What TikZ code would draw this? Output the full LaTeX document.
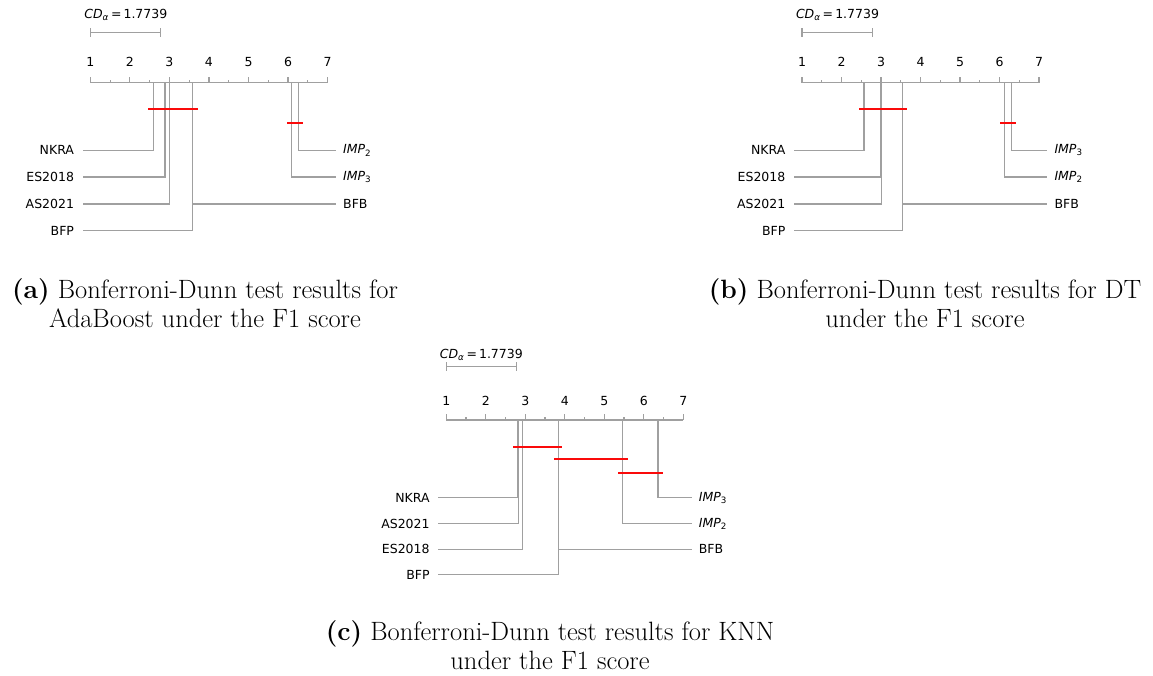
\documentclass[tikz,border=0pt]{standalone}
\usepackage{fontspec}
\newfontfamily\dv{DejaVu Sans}
\definecolor{grpred}{RGB}{250,10,10}
\definecolor{lngray}{RGB}{160,160,160}
\begin{document}
\begin{tikzpicture}[x=1pt,y=-1pt,
  rk/.style={draw=lngray,line width=1.15pt},
  axisln/.style={draw=lngray,line width=1.15pt},
  grp/.style={fill=grpred,draw=none},
  lbl/.style={font=\dv\fontsize{12.5}{14}\selectfont,inner xsep=8.5pt,inner ysep=0pt,anchor=east},
  rlbl/.style={font=\dv\fontsize{12.5}{14}\selectfont,inner xsep=7pt,inner ysep=0pt,anchor=west},
  ticklbl/.style={font=\dv\fontsize{12.5}{14}\selectfont,inner sep=0pt},
  captxt/.style={font=\fontsize{26.5}{29.5}\selectfont,align=center,inner sep=0pt}]
\useasboundingbox (0,0) rectangle (1153,676);
% ---------------- panel (a)
\begin{scope}[shift={(90.3,82.7)}]
  \def\u{39.55}
  \draw[axisln] (0,0) -- (6*\u,0);
  \foreach \i in {1,...,7} {\draw[axisln] ({(\i-1)*\u},0) -- ({(\i-1)*\u},-6);
    \node[ticklbl] (at\i) at ({(\i-1)*\u},-20.4) {\i};}
  \foreach \i in {1,...,6} {\draw[axisln] ({(\i-0.5)*\u},0) -- ({(\i-0.5)*\u},-3);}
  \coordinate (acdl) at (0,-50.4); \coordinate (acdr) at (1.7739*\u,-50.4);
  \draw[axisln] (acdl) -- (acdr);
  \draw[axisln] ([yshift=-4.5pt]acdl) -- ([yshift=4.5pt]acdl);
  \draw[axisln] ([yshift=-4.5pt]acdr) -- ([yshift=4.5pt]acdr);
  \node[ticklbl] (acd) at (35.5,-67.7) {\textit{CD}\textsubscript{\textit{α}}\,=\,1.7739};
  \node[lbl] (aNKRA) at (-7.6,67.6) {NKRA};
  \node[lbl] (aES) at (-7.6,94.3) {ES2018};
  \node[lbl] (aAS) at (-7.6,121.3) {AS2021};
  \node[lbl] (aBFP) at (-7.6,148) {BFP};
  \node[rlbl] (aIMPb) at (245.7,67.6) {\textit{IMP}\textsubscript{2}};
  \node[rlbl] (aIMPc) at (245.7,94.3) {\textit{IMP}\textsubscript{3}};
  \node[rlbl] (aBFB) at (245.7,121.3) {BFB};
  \coordinate (arNKRA) at ({1.60*\u},0);
  \coordinate (arES) at ({1.89*\u},0);
  \coordinate (arAS) at ({2.00*\u},0);
  \coordinate (arBFP) at ({2.59*\u},0);
  \coordinate (arIMPc) at ({5.09*\u},0);
  \coordinate (arIMPb) at ({5.26*\u},0);
  \draw[rk] (arNKRA) |- (aNKRA.east);
  \draw[rk] (arES) |- (aES.east);
  \draw[rk] (arAS) |- (aAS.east);
  \draw[rk] (arBFP) |- (aBFP.east);
  \draw[rk] (arIMPb) |- (aIMPb.west);
  \draw[rk] (arIMPc) |- (aIMPc.west);
  \draw[rk] (arBFP) |- (aBFB.west);
  \fill[grp] (58,25.3) rectangle (108,27.3);
  \fill[grp] (196.7,39.3) rectangle (213,41.3);
\end{scope}
% ---------------- panel (b)
\begin{scope}[shift={(802,82.7)}]
  \def\u{39.5}
  \draw[axisln] (0,0) -- (6*\u,0);
  \foreach \i in {1,...,7} {\draw[axisln] ({(\i-1)*\u},0) -- ({(\i-1)*\u},-6);
    \node[ticklbl] (bt\i) at ({(\i-1)*\u},-20.4) {\i};}
  \foreach \i in {1,...,6} {\draw[axisln] ({(\i-0.5)*\u},0) -- ({(\i-0.5)*\u},-3);}
  \coordinate (bcdl) at (0,-50.4); \coordinate (bcdr) at (1.7739*\u,-50.4);
  \draw[axisln] (bcdl) -- (bcdr);
  \draw[axisln] ([yshift=-4.5pt]bcdl) -- ([yshift=4.5pt]bcdl);
  \draw[axisln] ([yshift=-4.5pt]bcdr) -- ([yshift=4.5pt]bcdr);
  \node[ticklbl] (bcd) at (35.5,-67.7) {\textit{CD}\textsubscript{\textit{α}}\,=\,1.7739};
  \node[lbl] (bNKRA) at (-8,67.6) {NKRA};
  \node[lbl] (bES) at (-8,94.3) {ES2018};
  \node[lbl] (bAS) at (-8,121.3) {AS2021};
  \node[lbl] (bBFP) at (-8,148) {BFP};
  \node[rlbl] (bIMPc) at (245.3,67.6) {\textit{IMP}\textsubscript{3}};
  \node[rlbl] (bIMPb) at (245.3,94.3) {\textit{IMP}\textsubscript{2}};
  \node[rlbl] (bBFB) at (245.3,121.3) {BFB};
  \coordinate (brNKRA) at ({1.57*\u},0);
  \coordinate (brES) at ({1.98*\u},0);
  \coordinate (brAS) at ({2.01*\u},0);
  \coordinate (brBFP) at ({2.54*\u},0);
  \coordinate (brIMPb) at ({5.12*\u},0);
  \coordinate (brIMPc) at ({5.30*\u},0);
  \draw[rk] (brNKRA) |- (bNKRA.east);
  \draw[rk] (brES) |- (bES.east);
  \draw[rk] (brAS) |- (bAS.east);
  \draw[rk] (brBFP) |- (bBFP.east);
  \draw[rk] (brIMPc) |- (bIMPc.west);
  \draw[rk] (brIMPb) |- (bIMPb.west);
  \draw[rk] (brBFP) |- (bBFB.west);
  \fill[grp] (57.3,25.3) rectangle (104.7,27.3);
  \fill[grp] (198,39.3) rectangle (213.7,41.3);
\end{scope}
% ---------------- panel (c)
\begin{scope}[shift={(446.3,420)}]
  \def\u{39.5}
  \draw[axisln] (0,0) -- (6*\u,0);
  \foreach \i in {1,...,7} {\draw[axisln] ({(\i-1)*\u},0) -- ({(\i-1)*\u},-6);
    \node[ticklbl] (ct\i) at ({(\i-1)*\u},-19.3) {\i};}
  \foreach \i in {1,...,6} {\draw[axisln] ({(\i-0.5)*\u},0) -- ({(\i-0.5)*\u},-3);}
  \coordinate (ccdl) at (0,-53.7); \coordinate (ccdr) at (1.7739*\u,-53.7);
  \draw[axisln] (ccdl) -- (ccdr);
  \draw[axisln] ([yshift=-4.5pt]ccdl) -- ([yshift=4.5pt]ccdl);
  \draw[axisln] ([yshift=-4.5pt]ccdr) -- ([yshift=4.5pt]ccdr);
  \node[ticklbl] (ccd) at (35,-65) {\textit{CD}\textsubscript{\textit{α}}\,=\,1.7739};
  \node[lbl] (cNKRA) at (-8,77.7) {NKRA};
  \node[lbl] (cAS) at (-8,103.7) {AS2021};
  \node[lbl] (cES) at (-8,129.3) {ES2018};
  \node[lbl] (cBFP) at (-8,154.7) {BFP};
  \node[rlbl] (cIMPc) at (245.4,77.7) {\textit{IMP}\textsubscript{3}};
  \node[rlbl] (cIMPb) at (245.4,103.7) {\textit{IMP}\textsubscript{2}};
  \node[rlbl] (cBFB) at (245.4,129.3) {BFB};
  \coordinate (crNKRA) at ({1.81*\u},0);
  \coordinate (crAS) at ({1.83*\u},0);
  \coordinate (crES) at ({1.93*\u},0);
  \coordinate (crBFP) at ({2.83*\u},0);
  \coordinate (crIMPb) at ({4.47*\u},0);
  \coordinate (crIMPc) at ({5.36*\u},0);
  \draw[rk] (crNKRA) |- (cNKRA.east);
  \draw[rk] (crAS) |- (cAS.east);
  \draw[rk] (crES) |- (cES.east);
  \draw[rk] (crBFP) |- (cBFP.east);
  \draw[rk] (crIMPc) |- (cIMPc.west);
  \draw[rk] (crIMPb) |- (cIMPb.west);
  \draw[rk] (crBFP) |- (cBFB.west);
  \fill[grp] (67,26) rectangle (116,28);
  \fill[grp] (107.4,38) rectangle (181.4,40);
  \fill[grp] (172,52) rectangle (216.4,54);
\end{scope}
% ---------------- captions
\node[captxt] (capa) at (205,303) {\textbf{(a)} Bonferroni-Dunn test results for\\AdaBoost under the F1 score};
\node[captxt] (capb) at (925,303) {\textbf{(b)} Bonferroni-Dunn test results for DT\\under the F1 score};
\node[captxt] (capc) at (550,645) {\textbf{(c)} Bonferroni-Dunn test results for KNN\\under the F1 score};
\end{tikzpicture}
\end{document}
